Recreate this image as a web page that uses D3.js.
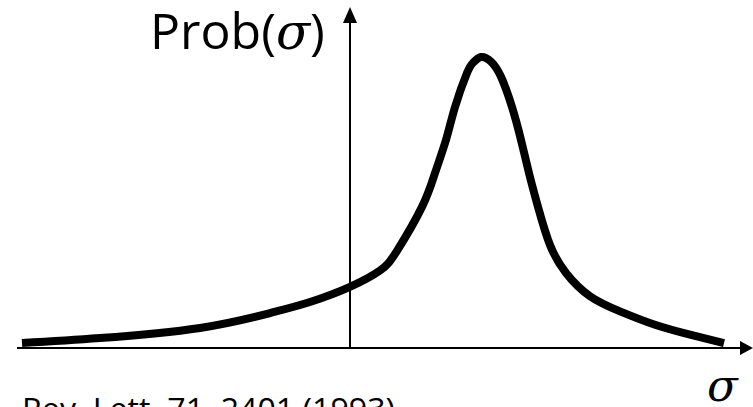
<!DOCTYPE html>
<html lang="en">
<head>
    <meta charset="UTF-8">
    <title>Prob(sigma)</title>
    <script src="https://d3js.org/d3.v7.min.js"></script>
    <style>
        body{
            margin: 0;
            background-color: white;
        }
        svg text{
            font-family: "Open Sans", sans-serif;
            fill: black;
        }
        .sym{
            font-family: "DejaVu Serif", serif;
            font-style: italic;
        }
    </style>
</head>
<body>
    <svg id="canvas" width="753" height="407"></svg>
    <script>
        // curve: sigma (y axis at 0) and Prob (peak = 1)
        let sigmaVals = [-3.28, -2.5, -1.5, -0.8, -0.4, 0, 0.30, 0.47, 0.72, 0.85, 0.96, 1.05, 1.17, 1.23, 1.31,
                         1.41, 1.51, 1.62, 1.71, 1.79, 1.88, 2.0, 2.16, 2.40, 2.70, 3.05, 3.40, 3.74]
        let probVals = [0.017, 0.034, 0.069, 0.120, 0.158, 0.210, 0.266, 0.334, 0.485, 0.601, 0.715, 0.828, 0.945, 0.980, 1.0,
                        0.984, 0.932, 0.828, 0.715, 0.601, 0.485, 0.354, 0.258, 0.178, 0.126, 0.080, 0.046, 0.017]
        let sigmaAxis = [-3.33, 4.03]
        let probAxisTop = 1.172
        let yLabel = "Prob("
        let xLabel = "\u03C3"
        let citation = "Rev. Lett. 71, 2401 (1993)"

        let svg = d3.select('#canvas');
        let xscale = d3.scaleLinear().domain([-3.33, 4.03]).range([17, 753])
        let yscale = d3.scaleLinear().domain([0, 1]).range([348, 57])

        let pts = d3.zip(sigmaVals, probVals)

        // axes
        let x0 = xscale(0), y0 = yscale(0)
        svg.append("line")
            .attr("x1", xscale(sigmaAxis[0])).attr("x2", xscale(sigmaAxis[1]) - 8)
            .attr("y1", y0).attr("y2", y0)
            .attr("stroke", "black").attr("stroke-width", 2)
        svg.append("line")
            .attr("x1", x0).attr("x2", x0)
            .attr("y1", y0).attr("y2", yscale(probAxisTop) + 8)
            .attr("stroke", "black").attr("stroke-width", 2)

        let xt = xscale(sigmaAxis[1]), yt = yscale(probAxisTop)
        svg.append("path")
            .attr("d", `M${xt},${y0} L${xt - 13},${y0 - 7} L${xt - 13},${y0 + 7} Z`)
            .attr("fill", "black")
        svg.append("path")
            .attr("d", `M${x0},${yt} L${x0 - 7},${yt + 16} L${x0 + 7},${yt + 16} Z`)
            .attr("fill", "black")

        // the curve
        let line_generator = d3.line()
            .x(function (d) { return xscale(d[0]) })
            .y(function (d) { return yscale(d[1]) })
            .curve(d3.curveNatural)
        svg.append("path")
            .attr("d", line_generator(pts))
            .attr("fill", "none")
            .attr("stroke", "black")
            .attr("stroke-width", 8)
            .attr("stroke-linecap", "butt")
            .attr("stroke-linejoin", "round")

        // labels
        let yl = svg.append("text")
            .attr("x", 150).attr("y", 49)
            .attr("font-size", 50)
        yl.append("tspan").text(yLabel)
        yl.append("tspan").attr("class", "sym").text(xLabel)
        yl.append("tspan").text(")")

        svg.append("text")
            .attr("class", "sym")
            .attr("x", 707).attr("y", 401)
            .attr("font-size", 45)
            .text(xLabel)

        svg.append("text")
            .attr("x", 22).attr("y", 420)
            .attr("font-size", 31)
            .attr("textLength", 373)
            .attr("lengthAdjust", "spacingAndGlyphs")
            .text(citation)
    </script>
</body>
</html>
